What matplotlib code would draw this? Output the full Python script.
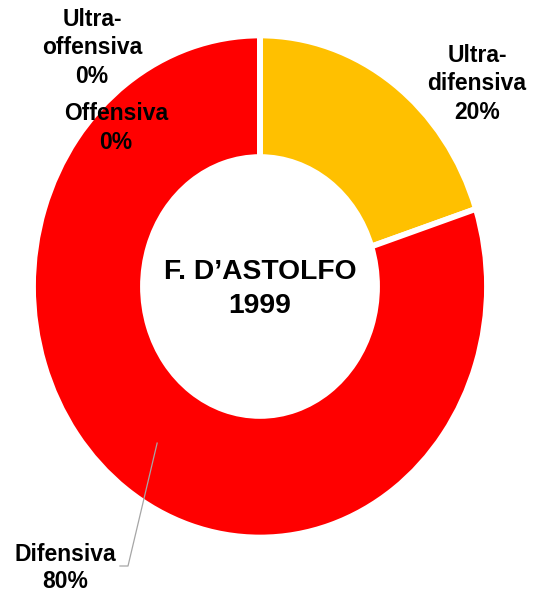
import numpy as np
import matplotlib
matplotlib.use("Agg")
import matplotlib.pyplot as plt

categories = ["Ultra-\ndifensiva", "Difensiva", "Offensiva", "Ultra-\noffensiva"]
values = [20, 80, 0, 0]
colors = ["#FFC000", "#FF0000", "#C00000", "#7F0000"]
center_title = "F. D\u2019ASTOLFO\n1999"

plt.rcParams['font.family'] = ['Liberation Sans', 'DejaVu Sans']

W, H = 547, 597
S = 1.106  # vertical stretch of the reference
fig = plt.figure(figsize=(W / 100, H / 100), dpi=100)
ax = fig.add_axes([0, 0, 1, 1])

def Y(py):
    return (H - py) / S

cx, cy = 260, Y(286.5)
R, r_in = 227, 117
wedges, _ = ax.pie(values, colors=colors, startangle=90, counterclock=False,
                   center=(cx, cy), radius=R,
                   wedgeprops=dict(width=R - r_in, edgecolor='white', linewidth=4.2))
ax.set_aspect('auto')
ax.set_xlim(0, W)
ax.set_ylim(0, H / S)
ax.axis('off')

fs = 16.5
def lab(x, yc, name, val, ls=1.3):
    ax.text(x, Y(yc), f"{name}\n{val}%", ha='center', va='center', fontsize=fs,
            fontweight='bold', color='black', linespacing=ls)

lab(92, 48, categories[3], values[3])
lab(116, 128, categories[2], values[2])
lab(477, 84, categories[0], values[0])
lab(65, 568, categories[1], values[1], ls=1.25)

# leader line for Difensiva
w = wedges[1]
mid = np.deg2rad((w.theta1 + w.theta2) / 2)
rm = (R + r_in) / 2 + 3
p0 = (cx + rm * np.cos(mid), cy + rm * np.sin(mid))
ax.plot([p0[0], 128, 120], [p0[1], Y(566), Y(566)], color='#A6A6A6', lw=0.9)

ax.text(cx, Y(289), center_title, ha='center', va='center', fontsize=20.3,
        fontweight='bold', color='black', linespacing=1.38)

fig.savefig("out.png", dpi=100)
